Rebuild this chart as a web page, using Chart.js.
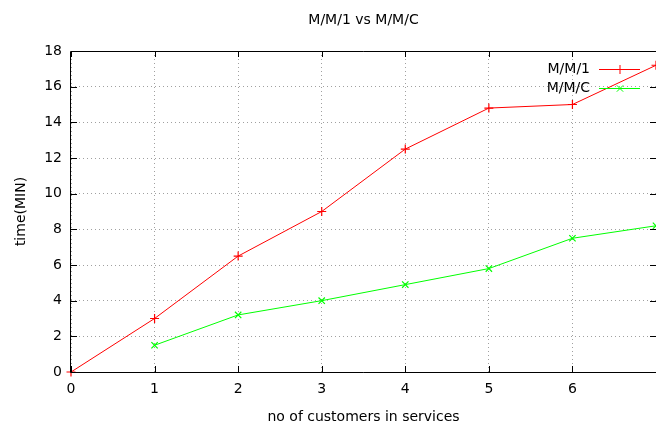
<!DOCTYPE html>
<html>
<head>
<meta charset="utf-8">
<script src="https://cdn.jsdelivr.net/npm/chart.js@4"></script>
<style>
html,body{margin:0;padding:0;background:#fff;overflow:hidden;}
canvas{display:block;}
</style>
</head>
<body>
<canvas id="c" width="656" height="427"></canvas>
<script>
const titleText = "M/M/1 vs M/M/C";
const xTitle = "no of customers in services";
const yTitle = "time(MIN)";
const customers = [0, 1, 2, 3, 4, 5, 6, 7];
const mm1Label = "M/M/1";
const mm1Values = [0, 3, 6.5, 9, 12.5, 14.8, 15, 17.2];
const mmcLabel = "M/M/C";
const mmcValues = [null, 1.5, 3.2, 4, 4.9, 5.8, 7.5, 8.2];
const xTicks = [0, 1, 2, 3, 4, 5, 6, 7];
const yTicks = [0, 2, 4, 6, 8, 10, 12, 14, 16, 18];

const FONT = "DejaVu Sans";
const FSIZE = 14;
const RED = "#ff0000";
const GREEN = "#00ff00";

function toPoints(vals){
  const pts = [];
  customers.forEach((c,i)=>{ if(vals[i]!==null) pts.push({x:c,y:vals[i]}); });
  return pts;
}

const framePlugin = {
  id: 'frame',
  afterDraw(chart){
    const ctx = chart.ctx;
    const a = chart.chartArea;
    const xs = chart.scales.x, ys = chart.scales.y;
    ctx.save();
    ctx.strokeStyle = '#000';
    ctx.lineWidth = 1;
    ctx.beginPath();
    ctx.rect(Math.round(a.left)-0.5, Math.round(a.top)+0.5, Math.round(a.right-a.left)+1, Math.round(a.bottom-a.top));
    ctx.stroke();
    // inward ticks
    ctx.beginPath();
    yTicks.forEach(v=>{
      const y = Math.round(ys.getPixelForValue(v))+0.5;
      ctx.moveTo(a.left, y); ctx.lineTo(a.left+6, y);
      ctx.moveTo(a.right, y); ctx.lineTo(a.right-6, y);
    });
    xTicks.forEach(v=>{
      const x = Math.round(xs.getPixelForValue(v))+0.5;
      ctx.moveTo(x, a.bottom); ctx.lineTo(x, a.bottom-6);
      ctx.moveTo(x, a.top); ctx.lineTo(x, a.top+6);
    });
    ctx.stroke();
    // title
    ctx.fillStyle = '#000';
    ctx.font = FSIZE + "px '" + FONT + "'";
    ctx.textAlign = 'center';
    ctx.textBaseline = 'middle';
    ctx.fillText(titleText, (a.left+a.right)/2, 20);
    // legend
    const items = [
      {label: mm1Label, color: RED, style: 'cross', y: 69},
      {label: mmcLabel, color: GREEN, style: 'crossRot', y: 88}
    ];
    items.forEach(it=>{
      ctx.fillStyle = '#000';
      ctx.textAlign = 'right';
      ctx.fillText(it.label, 590, it.y);
      ctx.strokeStyle = it.color;
      ctx.lineWidth = 1;
      ctx.beginPath();
      ctx.moveTo(599, it.y+0.5); ctx.lineTo(640, it.y+0.5);
      ctx.stroke();
      Chart.helpers.drawPoint(ctx, {pointStyle: it.style, radius: 4.5, borderWidth: 1.2}, 620, it.y+0.5);
    });
    ctx.restore();
  }
};

new Chart(document.getElementById('c'), {
  type: 'line',
  data: {
    datasets: [
      {label: mm1Label, data: toPoints(mm1Values), borderColor: RED, backgroundColor: RED,
       borderWidth: 1, pointStyle: 'cross', pointRadius: 4.5, pointBorderWidth: 1.2, pointBorderColor: RED, tension: 0, clip: false},
      {label: mmcLabel, data: toPoints(mmcValues), borderColor: GREEN, backgroundColor: GREEN,
       borderWidth: 1, pointStyle: 'crossRot', pointRadius: 4.5, pointBorderWidth: 1.2, pointBorderColor: GREEN, tension: 0, clip: false}
    ]
  },
  options: {
    responsive: false,
    animation: false,
    devicePixelRatio: 1,
    layout: {autoPadding: false, padding: {top: 51, right: 0, left: 0, bottom: 0}},
    plugins: {legend: {display: false}, title: {display: false}, tooltip: {enabled: false}},
    scales: {
      x: {
        type: 'linear', min: 0, max: 7,
        afterFit: s => { s.height = 55; s.paddingLeft = 0; s.paddingRight = 0; },
        afterBuildTicks: s => { s.ticks = xTicks.map(v=>({value:v})); },
        ticks: {stepSize: 1, padding: 9, color: '#000', font: {family: FONT, size: FSIZE},
                maxRotation: 0, autoSkip: false,
                callback: v => (v === 7 ? '' : String(v))},
        grid: {color: '#a0a0a0', lineWidth: 1, drawTicks: false},
        border: {display: false, dash: [1, 3]},
        title: {display: true, text: xTitle, color: '#000', font: {family: FONT, size: FSIZE}, padding: {top: 0, bottom: 1}}
      },
      y: {
        min: 0, max: 18,
        afterFit: s => { s.width = 71; s.paddingTop = 0; s.paddingBottom = 0; },
        afterBuildTicks: s => { s.ticks = yTicks.map(v=>({value:v})); },
        ticks: {stepSize: 2, padding: 9, color: '#000', font: {family: FONT, size: FSIZE}},
        grid: {color: '#a0a0a0', lineWidth: 1, drawTicks: false},
        border: {display: false, dash: [1, 3]},
        title: {display: true, text: yTitle, color: '#000', font: {family: FONT, size: FSIZE}, padding: {top: 13, bottom: 0}}
      }
    }
  },
  plugins: [framePlugin]
});
</script>
</body>
</html>
